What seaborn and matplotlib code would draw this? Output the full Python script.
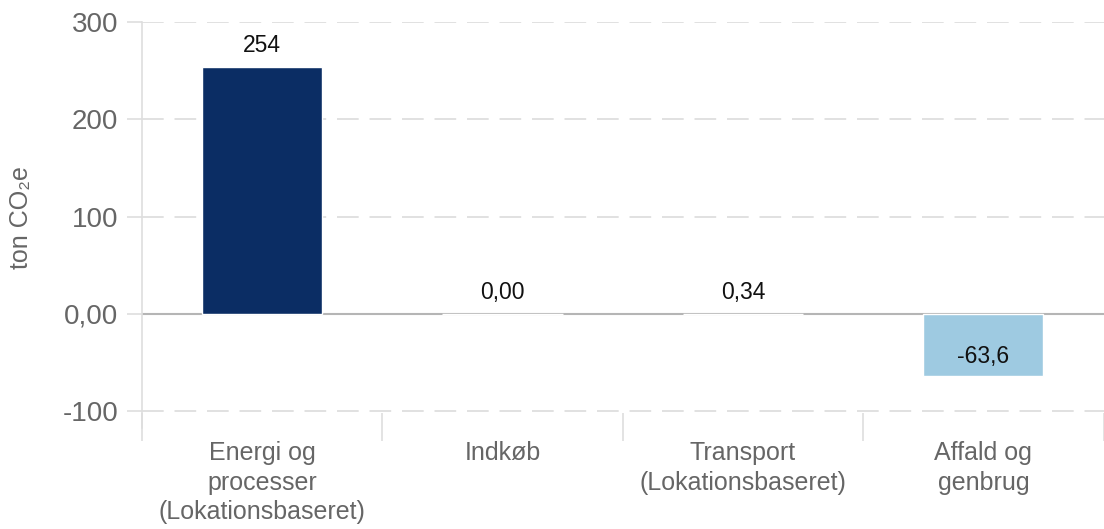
import numpy as np
import pandas as pd
import matplotlib
matplotlib.use("Agg")
import matplotlib.pyplot as plt
import seaborn as sns

# ── Data ───────────────────────────────────────────────────────────────────
categories = ["Energi og\nprocesser\n(Lokationsbaseret)", "Indkøb",
              "Transport\n(Lokationsbaseret)", "Affald og\ngenbrug"]
values     = [254, 0.0, 0.34, -63.6]
val_labels = ["254", "0,00", "0,34", "-63,6"]
bar_colors = ["#0b2d64", "#9ecae1", "#9ecae1", "#9ecae1"]
yticks     = [-100, 0, 100, 200, 300]
ytick_lbls = ["-100", "0,00", "100", "200", "300"]

df = pd.DataFrame({"cat": categories, "val": values})

sns.set_theme(style="white")
plt.rcParams["font.family"] = ["Liberation Sans", "DejaVu Sans"]

fig = plt.figure(figsize=(11.04, 5.29), dpi=100)
ax = fig.add_axes([0.1286, 0.219, 0.871, 0.739])

sns.barplot(data=df, x="cat", y="val", hue="cat", palette=bar_colors,
            order=categories, width=0.5, legend=False, ax=ax, saturation=1)

ax.set_ylim(-102, 300)
ax.set_xlim(-0.5, len(categories) - 0.5)

# grid
for t in yticks:
    if t == 0:
        ax.axhline(0, color="#b5b5b5", lw=1.5, zorder=0.5)
    else:
        ax.axhline(t, color="#dedede", lw=1.3, ls=(0, (12, 6)), zorder=0)

ax.set_yticks(yticks)
ax.set_yticklabels(ytick_lbls)
ax.tick_params(axis="y", length=11, width=1.2, color="#dedede",
               labelsize=20, labelcolor="#666666", pad=6, left=True)

ax.set_xticks(range(len(categories)))
ax.set_xticklabels(categories)
ax.set_xticks(np.arange(-0.5, len(categories)), minor=True)
ax.tick_params(axis="x", which="major", length=0, labelsize=18,
               labelcolor="#666666", pad=20)
ax.tick_params(axis="x", which="minor", length=20, width=1.2,
               color="#dedede", bottom=True)
for lbl in ax.get_xticklabels():
    lbl.set_linespacing(1.3)

ax.set_xlabel("")
ax.set_ylabel("ton CO₂e", fontsize=18, color="#666666")
ax.yaxis.set_label_coords(-0.113, 0.5)

for s in ["top", "right", "bottom"]:
    ax.spines[s].set_visible(False)
ax.spines["left"].set_color("#dedede")
ax.spines["left"].set_linewidth(1.2)
ax.spines["left"].set_bounds(-117, 300)
ax.spines["left"].set_clip_on(False)

# value labels
for i, (v, s) in enumerate(zip(values, val_labels)):
    if v < 0:
        ax.text(i, v / 2 - 12, s, ha="center", va="center", fontsize=16.5, color="#111111")
    else:
        ax.text(i, v + 10, s, ha="center", va="bottom", fontsize=16.5, color="#111111")

fig.savefig("out.png", dpi=100)
